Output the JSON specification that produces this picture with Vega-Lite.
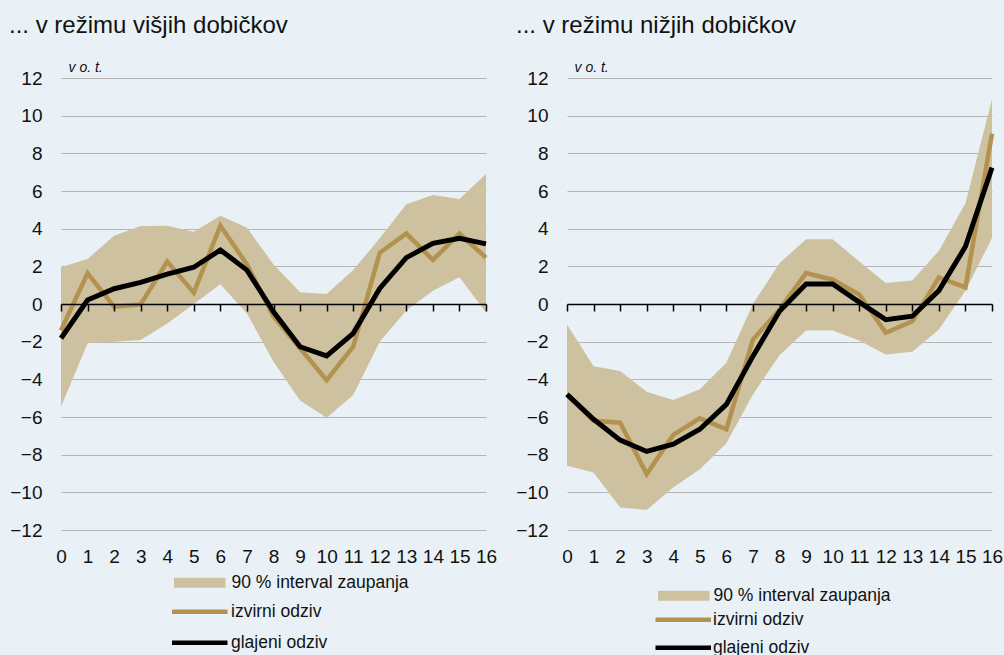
{
 "$schema": "https://vega.github.io/schema/vega-lite/v6.json",
 "background": "#e9f1f6",
 "padding": {"left": 9, "top": 14, "right": 5, "bottom": 5},
 "config": {
  "view": {"stroke": null},
  "font": "Liberation Sans",
  "axis": {"labelFont": "Liberation Sans", "labelFontSize": 19, "labelColor": "#111111", "labelOverlap": false, "format": "d"},
  "legend": {"labelFont": "Liberation Sans", "labelFontSize": 17.5, "labelColor": "#111111", "labelLimit": 400, "padding": 0},
  "title": {"font": "Liberation Sans", "fontSize": 24, "fontWeight": "normal", "color": "#111111"}
 },
 "datasets": {
  "visji": [
   {"x": 0, "lo": -5.45, "hi": 1.95, "izv": -1.4, "gla": -1.82},
   {"x": 1, "lo": -2.09, "hi": 2.39, "izv": 1.63, "gla": 0.21},
   {"x": 2, "lo": -2.0, "hi": 3.63, "izv": -0.14, "gla": 0.81},
   {"x": 3, "lo": -1.91, "hi": 4.14, "izv": -0.02, "gla": 1.15},
   {"x": 4, "lo": -1.03, "hi": 4.16, "izv": 2.25, "gla": 1.59},
   {"x": 5, "lo": 0.0, "hi": 3.84, "izv": 0.6, "gla": 1.95},
   {"x": 6, "lo": 1.05, "hi": 4.69, "izv": 4.16, "gla": 2.87},
   {"x": 7, "lo": -0.5, "hi": 4.05, "izv": 2.1, "gla": 1.8},
   {"x": 8, "lo": -3.06, "hi": 2.1, "izv": -0.67, "gla": -0.41},
   {"x": 9, "lo": -5.13, "hi": 0.62, "izv": -2.35, "gla": -2.27},
   {"x": 10, "lo": -6.04, "hi": 0.53, "izv": -4.04, "gla": -2.76},
   {"x": 11, "lo": -4.83, "hi": 1.8, "izv": -2.27, "gla": -1.56},
   {"x": 12, "lo": -2.0, "hi": 3.49, "izv": 2.72, "gla": 0.83},
   {"x": 13, "lo": -0.35, "hi": 5.29, "izv": 3.74, "gla": 2.46},
   {"x": 14, "lo": 0.7, "hi": 5.79, "izv": 2.34, "gla": 3.22},
   {"x": 15, "lo": 1.42, "hi": 5.58, "izv": 3.74, "gla": 3.49},
   {"x": 16, "lo": -0.45, "hi": 6.9, "izv": 2.46, "gla": 3.19}
  ],
  "nizji": [
   {"x": 0, "lo": -8.59, "hi": -1.09, "izv": -4.8, "gla": -4.8},
   {"x": 1, "lo": -8.95, "hi": -3.3, "izv": -6.2, "gla": -6.12},
   {"x": 2, "lo": -10.8, "hi": -3.56, "izv": -6.3, "gla": -7.23},
   {"x": 3, "lo": -10.94, "hi": -4.66, "izv": -9.03, "gla": -7.83},
   {"x": 4, "lo": -9.74, "hi": -5.1, "izv": -6.95, "gla": -7.44},
   {"x": 5, "lo": -8.77, "hi": -4.53, "izv": -6.07, "gla": -6.65},
   {"x": 6, "lo": -7.39, "hi": -3.12, "izv": -6.65, "gla": -5.33},
   {"x": 7, "lo": -4.8, "hi": 0.0, "izv": -1.89, "gla": -2.77},
   {"x": 8, "lo": -2.72, "hi": 2.17, "izv": -0.3, "gla": -0.39},
   {"x": 9, "lo": -1.41, "hi": 3.44, "izv": 1.64, "gla": 1.06},
   {"x": 10, "lo": -1.41, "hi": 3.44, "izv": 1.29, "gla": 1.06},
   {"x": 11, "lo": -1.94, "hi": 2.26, "izv": 0.5, "gla": 0.1},
   {"x": 12, "lo": -2.68, "hi": 1.11, "izv": -1.53, "gla": -0.83},
   {"x": 13, "lo": -2.54, "hi": 1.25, "izv": -0.92, "gla": -0.65},
   {"x": 14, "lo": -1.36, "hi": 2.83, "izv": 1.41, "gla": 0.71},
   {"x": 15, "lo": 0.7, "hi": 5.35, "izv": 0.88, "gla": 3.05},
   {"x": 16, "lo": 3.5, "hi": 10.87, "izv": 9.05, "gla": 7.24}
  ]
 },
 "spacing": 18,
 "resolve": {"scale": {"fill": "independent", "stroke": "independent"}, "legend": {"fill": "independent", "stroke": "independent"}},
 "hconcat": [
  {
   "width": 425, "height": 452,
   "title": {"text": "... v režimu višjih dobičkov", "anchor": "start", "frame": "group", "dx": -52, "offset": 22},
   "data": {"name": "visji"},
   "resolve": {"axis": {"x": "independent"}},
   "layer": [
    {
     "mark": {"type": "area", "opacity": 1},
     "encoding": {
      "x": {"field": "x", "type": "quantitative", "scale": {"domain": [0, 16], "nice": false}, "axis": {"values": [0,1,2,3,4,5,6,7,8,9,10,11,12,13,14,15,16], "tickCount": 40, "format": "d", "domain": false, "ticks": false, "grid": false, "labelPadding": 17, "labelFlush": false, "labelOverlap": false, "title": null}},
      "y": {"field": "lo", "type": "quantitative", "scale": {"domain": [-12, 12], "nice": false}, "axis": {"values": [-12,-10,-8,-6,-4,-2,0,2,4,6,8,10,12], "tickCount": 40, "format": "d", "domain": false, "ticks": false, "grid": true, "gridColor": "#b5b5b5", "gridWidth": 1.2, "labelPadding": 19, "labelOverlap": false, "labelFlush": false, "title": "v o. t.", "titleAngle": 0, "titleX": 7, "titleY": -7, "titleAlign": "left", "titleBaseline": "alphabetic", "titleFontStyle": "italic", "titleFontWeight": "normal", "titleFontSize": 14, "titleFont": "Liberation Sans", "titleColor": "#111111"}},
      "y2": {"field": "hi"},
      "fill": {"datum": "90 % interval zaupanja", "type": "nominal", "scale": {"range": ["#cdc1a0"]}, "legend": {"orient": "none", "legendX": 130, "legendY": 496, "title": null, "symbolType": "M-5.15,-1.0H5.15V1.0H-5.15Z", "symbolSize": 100, "symbolStrokeWidth": 0, "labelOffset": 23}}
     }
    },
    {
     "mark": {"type": "line", "strokeWidth": 4.5},
     "encoding": {
      "x": {"field": "x", "type": "quantitative", "axis": {"orient": "bottom", "offset": -226, "values": [0,1,2,3,4,5,6,7,8,9,10,11,12,13,14,15,16], "tickCount": 40, "format": "d", "labels": false, "domain": true, "domainColor": "#000000", "domainWidth": 1.5, "ticks": true, "tickColor": "#000000", "tickWidth": 1.5, "tickSize": 7, "grid": false, "title": null, "zindex": 1}},
      "y": {"field": "izv", "type": "quantitative", "axis": {"values": [-12,-10,-8,-6,-4,-2,0,2,4,6,8,10,12], "tickCount": 40, "format": "d", "title": "v o. t."}},
      "stroke": {"datum": "izvirni odziv", "type": "nominal", "scale": {"domain": ["izvirni odziv", "glajeni odziv"], "range": ["#b3924f", "#000000"]}, "legend": {"orient": "none", "legendX": 130, "legendY": 525, "title": null, "symbolType": "M-5.55,0H5.55", "symbolSize": 100, "symbolStrokeWidth": 4.5, "labelOffset": 22.5, "rowPadding": 12}}
     }
    },
    {
     "mark": {"type": "line", "strokeWidth": 5},
     "encoding": {
      "x": {"field": "x", "type": "quantitative", "axis": null},
      "y": {"field": "gla", "type": "quantitative", "axis": {"values": [-12,-10,-8,-6,-4,-2,0,2,4,6,8,10,12], "tickCount": 40, "format": "d", "title": "v o. t."}},
      "stroke": {"datum": "glajeni odziv", "type": "nominal"}
     }
    }
   ]
  },
  {
   "width": 425, "height": 452,
   "title": {"text": "... v režimu nižjih dobičkov", "anchor": "start", "frame": "group", "dx": -51, "offset": 22},
   "data": {"name": "nizji"},
   "resolve": {"axis": {"x": "independent"}},
   "layer": [
    {
     "mark": {"type": "area", "opacity": 1},
     "encoding": {
      "x": {"field": "x", "type": "quantitative", "scale": {"domain": [0, 16], "nice": false}, "axis": {"values": [0,1,2,3,4,5,6,7,8,9,10,11,12,13,14,15,16], "tickCount": 40, "format": "d", "domain": false, "ticks": false, "grid": false, "labelPadding": 17, "labelFlush": false, "labelOverlap": false, "title": null}},
      "y": {"field": "lo", "type": "quantitative", "scale": {"domain": [-12, 12], "nice": false}, "axis": {"values": [-12,-10,-8,-6,-4,-2,0,2,4,6,8,10,12], "tickCount": 40, "format": "d", "domain": false, "ticks": false, "grid": true, "gridColor": "#b5b5b5", "gridWidth": 1.2, "labelPadding": 19, "labelOverlap": false, "labelFlush": false, "title": "v o. t.", "titleAngle": 0, "titleX": 7, "titleY": -7, "titleAlign": "left", "titleBaseline": "alphabetic", "titleFontStyle": "italic", "titleFontWeight": "normal", "titleFontSize": 14, "titleFont": "Liberation Sans", "titleColor": "#111111"}},
      "y2": {"field": "hi"},
      "fill": {"datum": "90 % interval zaupanja", "type": "nominal", "scale": {"range": ["#cdc1a0"]}, "legend": {"orient": "none", "legendX": 108, "legendY": 509, "title": null, "symbolType": "M-5.15,-1.0H5.15V1.0H-5.15Z", "symbolSize": 100, "symbolStrokeWidth": 0, "labelOffset": 21}}
     }
    },
    {
     "mark": {"type": "line", "strokeWidth": 4.5},
     "encoding": {
      "x": {"field": "x", "type": "quantitative", "axis": {"orient": "bottom", "offset": -226, "values": [0,1,2,3,4,5,6,7,8,9,10,11,12,13,14,15,16], "tickCount": 40, "format": "d", "labels": false, "domain": true, "domainColor": "#000000", "domainWidth": 1.5, "ticks": true, "tickColor": "#000000", "tickWidth": 1.5, "tickSize": 7, "grid": false, "title": null, "zindex": 1}},
      "y": {"field": "izv", "type": "quantitative", "axis": {"values": [-12,-10,-8,-6,-4,-2,0,2,4,6,8,10,12], "tickCount": 40, "format": "d", "title": "v o. t."}},
      "stroke": {"datum": "izvirni odziv", "type": "nominal", "scale": {"domain": ["izvirni odziv", "glajeni odziv"], "range": ["#b3924f", "#000000"]}, "legend": {"orient": "none", "legendX": 107.5, "legendY": 533, "title": null, "symbolType": "M-5.55,0H5.55", "symbolSize": 100, "symbolStrokeWidth": 4.5, "labelOffset": 21, "rowPadding": 9}}
     }
    },
    {
     "mark": {"type": "line", "strokeWidth": 5},
     "encoding": {
      "x": {"field": "x", "type": "quantitative", "axis": null},
      "y": {"field": "gla", "type": "quantitative", "axis": {"values": [-12,-10,-8,-6,-4,-2,0,2,4,6,8,10,12], "tickCount": 40, "format": "d", "title": "v o. t."}},
      "stroke": {"datum": "glajeni odziv", "type": "nominal"}
     }
    }
   ]
  }
 ]
}
